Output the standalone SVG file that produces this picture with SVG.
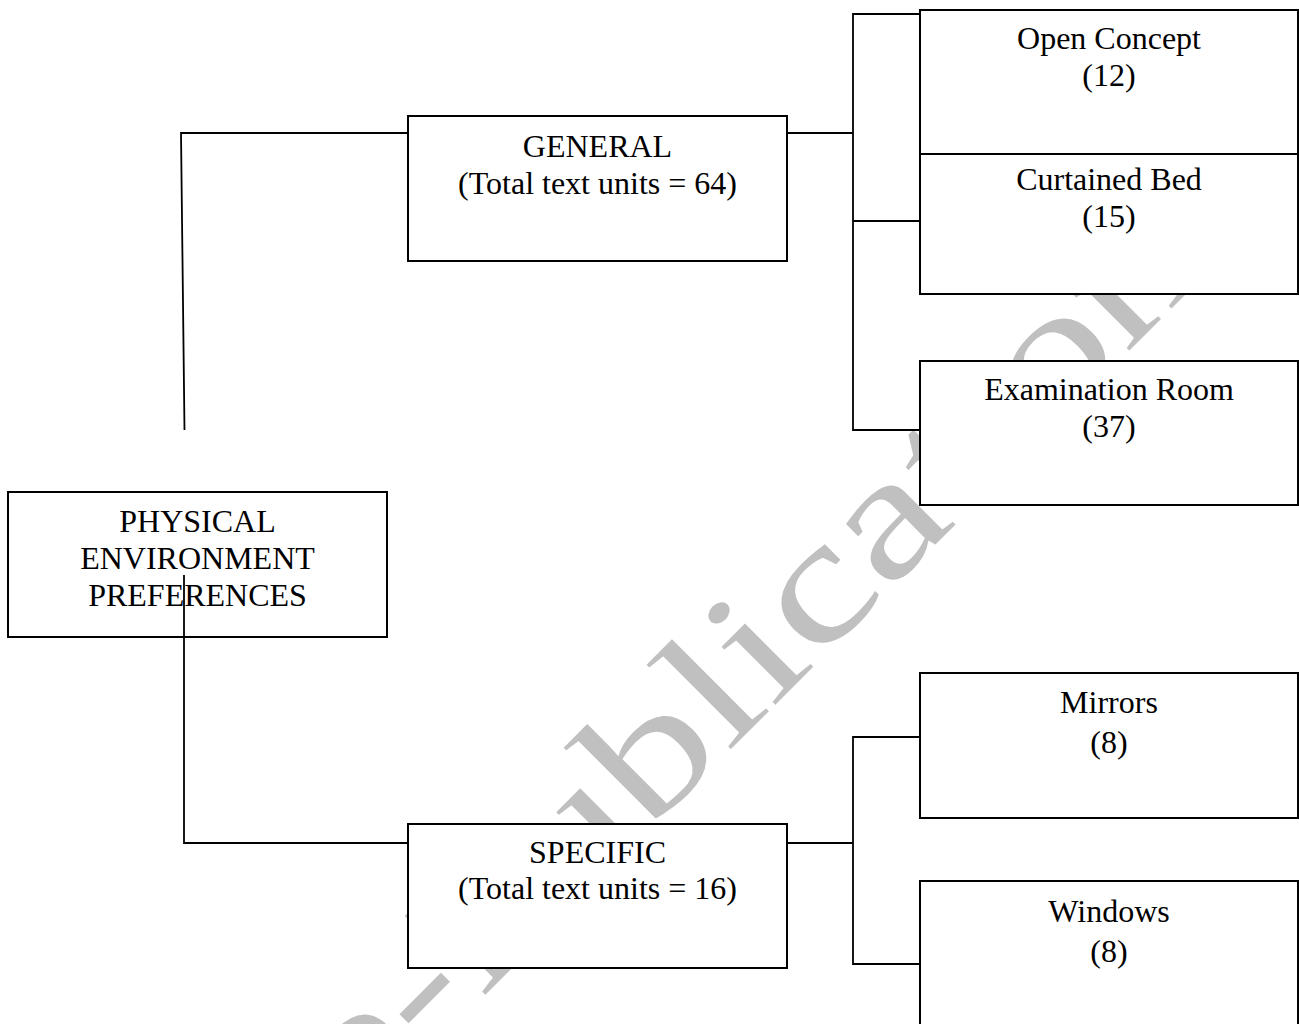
<svg xmlns="http://www.w3.org/2000/svg" width="1299" height="1024" viewBox="0 0 1299 1024">
<style>
.box{fill:#ffffff;stroke:#000000;stroke-width:2}
.conn{fill:none;stroke:#000000;stroke-width:1.8}
.t{font-family:"Liberation Serif","Times New Roman",serif;font-size:32px;fill:#000000;text-anchor:middle}
.wm{font-family:"Liberation Serif","Times New Roman",serif;font-size:172px;fill:#c0c0c0}
</style>
<rect x="0" y="0" width="1299" height="1024" fill="#ffffff"/>
<g id="watermark">
<text class="wm" transform="translate(740 740) rotate(-45) scale(1.31 1)" x="-567.5" y="0">Pre-Publication</text>
</g>
<g id="connectors">
<path class="conn" d="M184.5,430 L181,133 L408,133"/>
<path class="conn" d="M184,575 L184,843 L408,843"/>
<path class="conn" d="M787,133 L853,133"/>
<path class="conn" d="M920,14 L853,14 L853,430 L920,430"/>
<path class="conn" d="M853,221 L920,221"/>
<path class="conn" d="M787,843 L853,843"/>
<path class="conn" d="M920,737 L853,737 L853,964 L920,964"/>
</g>
<g id="node-physical">
<rect class="box" x="8" y="492" width="379" height="145"/>
<text class="t" x="197.5" y="532">PHYSICAL</text>
<text class="t" x="197.5" y="569">ENVIRONMENT</text>
<text class="t" x="197.5" y="606">PREFERENCES</text>
</g>
<path class="conn" d="M184,575 L184,637"/>
<g id="node-general">
<rect class="box" x="408" y="116" width="379" height="145"/>
<text class="t" x="597.5" y="157">GENERAL</text>
<text class="t" x="597.5" y="194">(Total text units = 64)</text>
</g>
<g id="node-specific">
<rect class="box" x="408" y="824" width="379" height="144"/>
<text class="t" x="597.5" y="863">SPECIFIC</text>
<text class="t" x="597.5" y="899">(Total text units = 16)</text>
</g>
<g id="node-open-concept">
<rect class="box" x="920" y="10" width="378" height="144"/>
<text class="t" x="1109" y="49">Open Concept</text>
<text class="t" x="1109" y="86">(12)</text>
</g>
<g id="node-curtained-bed">
<rect class="box" x="920" y="154" width="378" height="140"/>
<text class="t" x="1109" y="190">Curtained Bed</text>
<text class="t" x="1109" y="227">(15)</text>
</g>
<g id="node-examination-room">
<rect class="box" x="920" y="361" width="378" height="144"/>
<text class="t" x="1109" y="400">Examination Room</text>
<text class="t" x="1109" y="437">(37)</text>
</g>
<g id="node-mirrors">
<rect class="box" x="920" y="673" width="378" height="145"/>
<text class="t" x="1109" y="713">Mirrors</text>
<text class="t" x="1109" y="753">(8)</text>
</g>
<g id="node-windows">
<rect class="box" x="920" y="881" width="378" height="160"/>
<text class="t" x="1109" y="922">Windows</text>
<text class="t" x="1109" y="962">(8)</text>
</g>
</svg>
